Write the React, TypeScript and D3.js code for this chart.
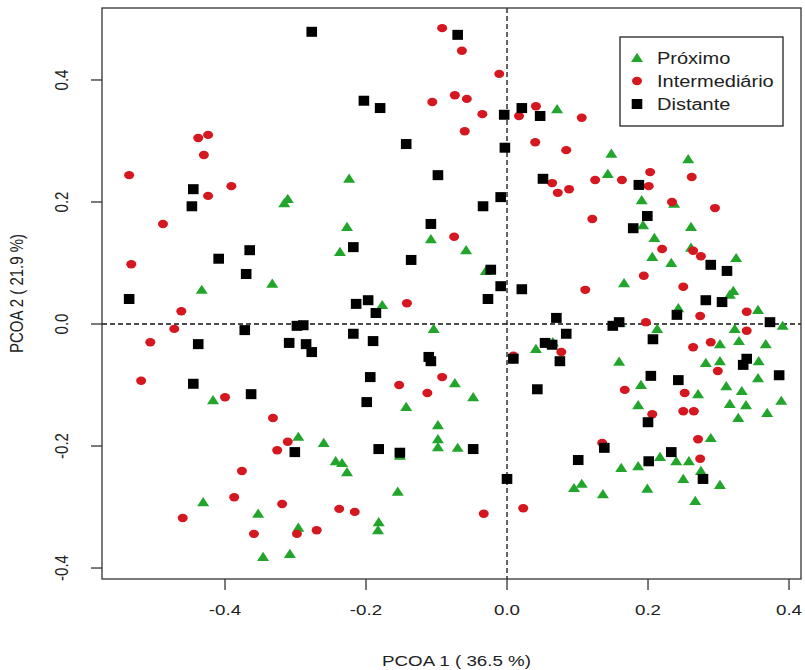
import React from "react";
import * as d3 from "d3";

// Próximo (green triangles)
const proximoX = [-0.224,-0.316,-0.311,0.071,0.148,0.143,0.257,0.191,0.237,0.193,0.261,0.209,0.261,0.325,0.206,0.233,0.166,0.321,0.316,0.243,0.356,0.391,0.213,0.323,0.302,0.329,0.367,0.302,0.282,0.357,0.356,0.190,0.311,0.333,0.271,0.186,0.316,0.339,0.328,0.369,0.389,0.289,0.217,0.186,0.240,0.258,0.275,0.250,0.302,0.199,0.267,-0.058,-0.030,0.160,0.065,0.041,0.159,-0.074,-0.048,-0.070,0.162,0.106,0.095,0.136,-0.143,-0.098,-0.098,-0.098,-0.296,-0.260,-0.152,-0.243,-0.234,-0.227,-0.155,-0.182,-0.183,-0.296,-0.308,-0.417,-0.431,-0.353,-0.346,-0.227,-0.237,-0.108,-0.433,-0.333,-0.177,-0.104];
const proximoY = [0.238,0.198,0.205,0.352,0.279,0.246,0.270,0.203,0.197,0.162,0.159,0.141,0.125,0.108,0.110,0.100,0.067,0.054,0.048,0.026,0.023,-0.003,-0.008,-0.008,-0.033,-0.028,-0.033,-0.061,-0.064,-0.061,-0.089,-0.100,-0.102,-0.110,-0.115,-0.133,-0.131,-0.133,-0.154,-0.146,-0.126,-0.187,-0.218,-0.233,-0.225,-0.225,-0.241,-0.254,-0.264,-0.270,-0.290,0.121,0.087,0.002,-0.030,-0.041,-0.062,-0.097,-0.120,-0.203,-0.236,-0.262,-0.269,-0.279,-0.136,-0.166,-0.189,-0.202,-0.185,-0.195,-0.216,-0.225,-0.228,-0.243,-0.275,-0.325,-0.338,-0.334,-0.377,-0.125,-0.292,-0.311,-0.382,0.159,0.118,0.139,0.056,0.066,0.031,-0.008];

// Intermediário (red circles)
const intermX = [-0.438,-0.424,-0.430,-0.536,-0.391,-0.424,-0.092,-0.106,-0.074,-0.064,-0.011,-0.057,-0.035,0.041,0.017,0.106,-0.060,0.040,0.084,0.125,0.163,0.064,0.072,0.088,0.203,0.262,0.201,0.234,0.295,0.220,0.264,0.275,0.194,0.250,0.274,0.340,0.197,0.340,0.289,0.264,0.299,0.167,0.252,0.206,0.250,0.265,0.271,0.274,0.121,-0.075,0.111,0.077,0.009,0.135,-0.033,0.023,-0.113,-0.332,-0.311,-0.326,-0.319,-0.238,-0.216,-0.298,-0.270,-0.400,-0.376,-0.387,-0.460,-0.359,-0.488,-0.533,-0.462,-0.472,-0.506,-0.519,-0.142,-0.153,-0.092];
const intermY = [0.305,0.310,0.277,0.244,0.226,0.210,0.485,0.364,0.375,0.448,0.410,0.369,0.344,0.357,0.341,0.338,0.316,0.298,0.285,0.236,0.236,0.231,0.215,0.221,0.249,0.241,0.226,0.200,0.190,0.123,0.120,0.111,0.079,0.061,0.013,0.020,0.003,-0.011,-0.030,-0.038,-0.077,-0.108,-0.113,-0.148,-0.143,-0.143,-0.189,-0.221,0.172,0.143,0.056,-0.046,-0.052,-0.195,-0.311,-0.302,-0.113,-0.154,-0.193,-0.207,-0.295,-0.303,-0.308,-0.344,-0.338,-0.120,-0.241,-0.284,-0.318,-0.344,0.164,0.098,0.021,-0.008,-0.030,-0.093,0.034,-0.100,-0.087];

// Distante (black squares)
const distanteX = [-0.445,-0.277,-0.070,-0.203,-0.180,-0.143,-0.098,-0.004,0.021,0.047,-0.003,0.051,-0.009,-0.034,0.187,0.199,0.179,0.289,0.312,0.282,0.305,0.241,0.373,0.207,0.340,0.335,0.204,0.243,0.386,0.200,0.233,0.201,0.278,-0.023,-0.009,0.021,-0.027,0.070,0.150,0.159,0.084,0.054,0.064,0.009,0.075,0.043,-0.048,0.000,0.138,0.101,-0.199,-0.301,-0.182,-0.152,-0.363,-0.447,-0.365,-0.409,-0.370,-0.536,-0.372,-0.438,-0.445,-0.218,-0.108,-0.136,-0.214,-0.197,-0.186,-0.298,-0.289,-0.309,-0.285,-0.277,-0.218,-0.190,-0.111,-0.108,-0.194];
const distanteY = [0.221,0.479,0.474,0.366,0.354,0.295,0.244,0.343,0.354,0.341,0.289,0.238,0.208,0.193,0.228,0.177,0.157,0.097,0.087,0.039,0.036,0.015,0.003,-0.025,-0.057,-0.067,-0.085,-0.092,-0.084,-0.161,-0.210,-0.225,-0.254,0.089,0.062,0.057,0.041,0.010,-0.003,0.003,-0.016,-0.031,-0.034,-0.057,-0.061,-0.107,-0.205,-0.254,-0.203,-0.223,-0.128,-0.210,-0.205,-0.211,-0.115,0.193,0.121,0.107,0.082,0.041,-0.010,-0.033,-0.098,0.126,0.164,0.105,0.033,0.039,0.018,-0.003,-0.002,-0.031,-0.033,-0.046,-0.016,-0.028,-0.054,-0.061,-0.087];

const xTicks = [-0.4, -0.2, 0.0, 0.2, 0.4];
const yTicks = [-0.4, -0.2, 0.0, 0.2, 0.4];
const xTickLabels = ["-0.4", "-0.2", "0.0", "0.2", "0.4"];
const yTickLabels = ["-0.4", "-0.2", "0.0", "0.2", "0.4"];
const legendLabels = ["Próximo", "Intermediário", "Distante"];
const xTitle = "PCOA 1 ( 36.5 %)";
const yTitle = "PCOA 2 ( 21.9 %)";

const GREEN = "#21a52b";
const RED = "#d5171f";
const BLACK = "#000000";
const SX = 1.25;
const FONT = "'Liberation Sans', Arial, Helvetica, sans-serif";

export default function App() {
  const W = 805, H = 670;
  const L = 102, R = 801, T = 8, B = 579;
  const x = d3.scaleLinear().domain([-0.5745, 0.4170]).range([L, R]);
  const y = d3.scaleLinear().domain([-0.418, 0.518]).range([B, T]);

  const tri = (cx: number, cy: number, k: string) => (
    <path key={k} d={`M${cx},${cy - 5.2} L${cx + 6},${cy + 4} L${cx - 6},${cy + 4} Z`} fill={GREEN} />
  );
  const circ = (cx: number, cy: number, k: string) => (
    <ellipse key={k} cx={cx} cy={cy} rx={5} ry={4.2} fill={RED} />
  );
  const sq = (cx: number, cy: number, k: string) => (
    <rect key={k} x={cx - 5.3} y={cy - 5} width={10.6} height={10} fill={BLACK} />
  );

  const lx = 637;
  const legendY = [58, 81, 104];
  const markers = [tri, circ, sq];

  return (
    <svg width={W} height={H} style={{ position: "absolute", left: 0, top: 0, background: "#fff" }} fontFamily={FONT}>
      <rect x={0} y={0} width={W} height={H} fill="#fff" />
      {/* reference dashed lines */}
      <line x1={x(0)} x2={x(0)} y1={T} y2={B} stroke="#111" strokeWidth={1.3} strokeDasharray="5,3" />
      <line x1={L} x2={R} y1={y(0)} y2={y(0)} stroke="#111" strokeWidth={1.3} strokeDasharray="5,3" />

      {/* points */}
      {proximoX.map((v, i) => tri(x(v), y(proximoY[i]), "g" + i))}
      {intermX.map((v, i) => circ(x(v), y(intermY[i]), "r" + i))}
      {distanteX.map((v, i) => sq(x(v), y(distanteY[i]), "b" + i))}

      {/* frame */}
      <rect x={L} y={T} width={R - L} height={B - T} fill="none" stroke="#333" strokeWidth={1.3} />

      {/* x axis */}
      {xTicks.map((t, i) => (
        <g key={"xt" + t}>
          <line x1={x(t)} x2={x(t)} y1={B} y2={B + 11} stroke="#333" strokeWidth={1.3} />
          <text transform={`translate(${x(t)},${B + 36}) scale(${SX},1)`} textAnchor="middle" fontSize={15} fill="#222">
            {xTickLabels[i]}
          </text>
        </g>
      ))}
      {/* y axis */}
      {yTicks.map((t, i) => (
        <g key={"yt" + t}>
          <line x1={L - 11} x2={L} y1={y(t)} y2={y(t)} stroke="#333" strokeWidth={1.3} />
          <text transform={`translate(${L - 34},${y(t)}) scale(${SX},1) rotate(-90)`} textAnchor="middle" fontSize={15} fill="#222">
            {yTickLabels[i]}
          </text>
        </g>
      ))}

      <text transform={`translate(${(L + R) / 2 + 5},${H - 4}) scale(${SX},1)`} textAnchor="middle" fontSize={15} fill="#222">
        {xTitle}
      </text>
      <text transform={`translate(23,${(T + B) / 2}) scale(${SX},1) rotate(-90)`} textAnchor="middle" fontSize={15} fill="#222">
        {yTitle}
      </text>

      {/* legend */}
      <rect x={620} y={37} width={163} height={89} fill="#fff" stroke="#222" strokeWidth={1.3} />
      {legendLabels.map((lab, i) => (
        <g key={"lg" + i}>
          {markers[i](lx, legendY[i], "lm" + i)}
          <text transform={`translate(657,${legendY[i] + 6}) scale(${SX},1)`} fontSize={16} fill="#222">
            {lab}
          </text>
        </g>
      ))}
    </svg>
  );
}
